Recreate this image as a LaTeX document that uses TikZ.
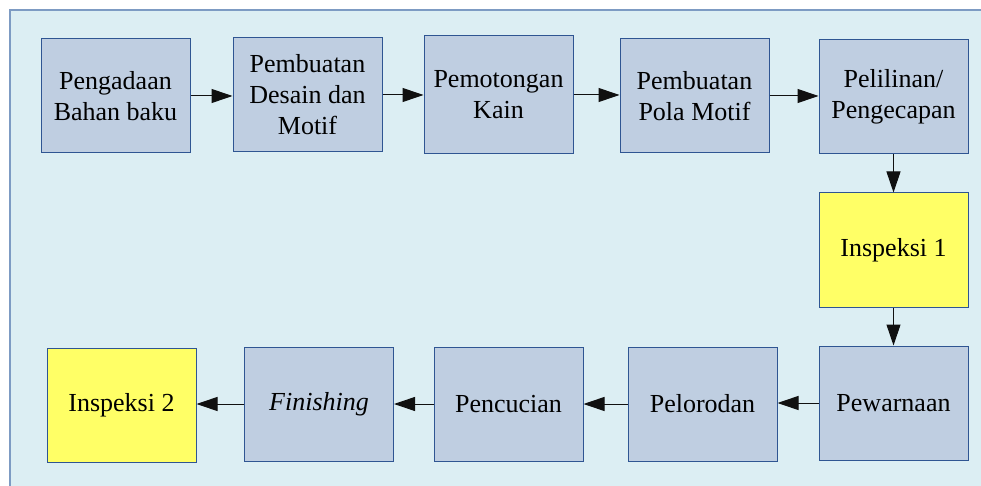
\documentclass[tikz,border=0pt]{standalone}
\usepackage{fontspec}
\setmainfont{Liberation Serif}
\newfontfamily\tnr{Liberation Serif}
\usetikzlibrary{arrows.meta}
\definecolor{panelbg}{HTML}{DCEEF3}
\definecolor{panelline}{HTML}{7D9BC3}
\definecolor{boxfill}{HTML}{BFCEE1}
\definecolor{boxline}{HTML}{2F5592}
\definecolor{yel}{HTML}{FFFF66}
\definecolor{conn}{HTML}{101010}
\begin{document}
\begin{tikzpicture}[x=1pt,y=-1pt,
  proc/.style={draw=boxline,line width=1pt,fill=boxfill,minimum width=149pt,minimum height=114pt,
    inner sep=0pt,align=center,font=\tnr\fontsize{26}{31}\selectfont},
  insp/.style={proc,fill=yel},
  flow/.style={draw=conn,line width=1pt,-{Triangle[length=21pt,width=14pt]}}]
\useasboundingbox (0,0) rectangle (981,486);
\fill[white] (0,0) rectangle (981,486);
\fill[panelbg] (10,10) rectangle (990,495);
\draw[panelline,line width=1.2pt] (10,495) -- (10,10) -- (990,10);
\node[proc] (a) at (115.5,96) {Pengadaan\\Bahan baku};
\node[proc] (b) at (307.5,95) {Pembuatan\\Desain dan\\Motif};
\node[proc,minimum height=118pt] (c) at (498.5,95) {Pemotongan\\Kain};
\node[proc] (d) at (694.5,96) {Pembuatan\\Pola Motif};
\node[proc] (e) at (893.5,97) {Pelilinan/\\Pengecapan};
\node[insp] (f) at (893.5,250) {Inspeksi 1};
\node[proc] (g) at (893.5,403) {Pewarnaan};
\node[proc] (h) at (702.5,404) {Pelorodan};
\node[proc] (i) at (508.5,404) {Pencucian};
\node[proc] (j) at (319,404) {\itshape Finishing};
\node[insp] (k) at (121.5,405) {Inspeksi 2};
\draw[flow] (a.east) -- (a.east -| b.west);
\draw[flow] (b.east) -- (b.east -| c.west);
\draw[flow] (c.east) -- (c.east -| d.west);
\draw[flow] (d.east) -- (d.east -| e.west);
\draw[flow] (e.south) -- (f.north);
\draw[flow] (f.south) -- (g.north);
\draw[flow] (g.west) -- (g.west -| h.east);
\draw[flow] (h.west) -- (h.west -| i.east);
\draw[flow] (i.west) -- (i.west -| j.east);
\draw[flow] (j.west) -- (j.west -| k.east);
\end{tikzpicture}
\end{document}
